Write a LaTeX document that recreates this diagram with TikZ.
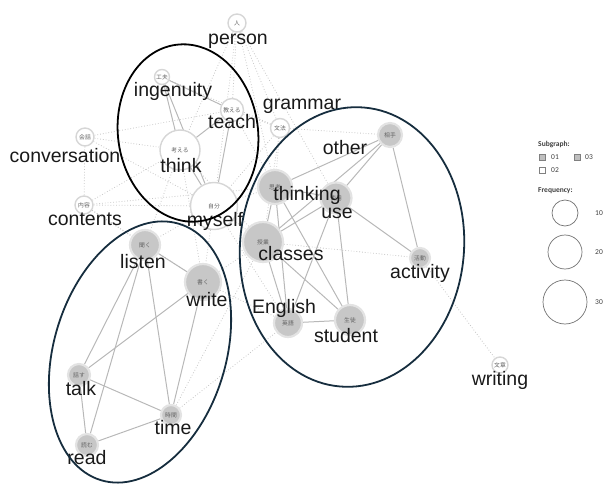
\documentclass[tikz,border=0pt]{standalone}
\usepackage{fontspec}
\setmainfont{Liberation Sans}
\newfontfamily\jpfont{Noto Sans CJK JP}
\newfontfamily\legfont{Carlito}
\usetikzlibrary{backgrounds}
\begin{document}
\begin{tikzpicture}[x=1pt,y=-1pt,
  ga/.style={circle,inner sep=0pt,fill=black!22,draw=black!11,line width=2.2pt,
     font=\jpfont\fontsize{5.8}{5.8}\selectfont,text=black!62},
  gw/.style={circle,inner sep=0pt,fill=white,draw=black!16,line width=1.4pt,
     font=\jpfont\fontsize{5.8}{5.8}\selectfont,text=black!62},
  lbl/.style={anchor=base,inner sep=0pt,font=\fontsize{19.5}{20}\selectfont,text=black!90},
  se/.style={draw=black!28,line width=1pt},
  de/.style={draw=black!22,line width=0.8pt,dotted},
  grp/.style={line width=1.8pt},
  leg/.style={font=\legfont\fontsize{7.5}{8}\selectfont,text=black!75,inner sep=0pt},
  legsq/.style={draw=black!50,minimum size=6pt,inner sep=0pt},
  legc/.style={circle,draw=black!55,line width=0.7pt,inner sep=0pt}]
\useasboundingbox (0,0) rectangle (605,484);
% nodes
\node[gw,minimum size=18pt] (person) at (237,23) {人};
\node[gw,minimum size=15pt] (ingenuity) at (162,77) {工夫};
\node[gw,minimum size=23pt] (teach) at (232,110) {教える};
\node[gw,minimum size=19pt] (grammar) at (280,128) {文法};
\node[gw,minimum size=18pt] (conversation) at (85,137) {会話};
\node[gw,minimum size=40pt] (think) at (180,150) {考える};
\node[gw,minimum size=18pt] (contents) at (84,205) {内容};
\node[gw,minimum size=47pt] (myself) at (214,206) {自分};
\node[ga,minimum size=34pt] (thinking) at (275,187) {思考};
\node[ga,minimum size=31pt] (use) at (336,198) {使用};
\node[ga,minimum size=24pt] (other) at (390,135) {相手};
\node[ga,minimum size=40pt] (classes) at (263,242) {授業};
\node[ga,minimum size=20pt] (activity) at (420,258) {活動};
\node[ga,minimum size=28pt] (English) at (288,323) {英語};
\node[ga,minimum size=30pt] (student) at (350,320) {生徒};
\node[gw,minimum size=16pt] (writing) at (500,365) {文章};
\node[ga,minimum size=30pt] (listen) at (145,245) {聞く};
\node[ga,minimum size=36pt] (write) at (203,282) {書く};
\node[ga,minimum size=22pt] (talk) at (79,375) {話す};
\node[ga,minimum size=20pt] (time) at (171,415) {時間};
\node[ga,minimum size=22pt] (read) at (87,445) {読む};
% edges
\begin{pgfonlayer}{background}
\foreach \a/\b in {person/think,person/teach,person/myself,person/grammar,person/thinking,person/use,
  conversation/contents,conversation/think,conversation/myself,conversation/teach,
  contents/think,contents/myself,contents/listen,contents/write,contents/thinking,
  grammar/teach,grammar/thinking,grammar/classes,grammar/other,grammar/myself,grammar/ingenuity,
  think/listen,think/write,think/classes,
  myself/listen,myself/write,myself/thinking,myself/classes,myself/English,
  write/classes,write/English,time/English,time/classes,
  classes/activity,activity/writing,teach/thinking}
  \draw[de] (\a) -- (\b);
\foreach \a/\b in {ingenuity/think,ingenuity/myself,ingenuity/teach,teach/think,teach/myself,think/myself,
  other/thinking,other/use,other/classes,other/activity,thinking/use,thinking/classes,thinking/English,
  thinking/student,use/classes,use/activity,use/student,use/English,classes/English,classes/student,
  English/student,
  listen/write,listen/talk,listen/read,listen/time,write/talk,write/time,talk/time,talk/read,read/time}
  \draw[se] (\a) -- (\b);
\end{pgfonlayer}
% labels
\node[lbl] (personL) at (238,45) {person};
\node[lbl] (ingenuityL) at (173,97) {ingenuity};
\node[lbl] (teachL) at (232,129) {teach};
\node[lbl] (grammarL) at (302,110) {grammar};
\node[lbl] (conversationL) at (65,162) {conversation};
\node[lbl] (thinkL) at (181,172) {think};
\node[lbl] (contentsL) at (85,225) {contents};
\node[lbl] (myselfL) at (215,226) {myself};
\node[lbl] (thinkingL) at (307,200) {thinking};
\node[lbl] (useL) at (337,218) {use};
\node[lbl] (otherL) at (345,154) {other};
\node[lbl] (classesL) at (291,260) {classes};
\node[lbl] (activityL) at (420,278) {activity};
\node[lbl] (EnglishL) at (284,313) {English};
\node[lbl] (studentL) at (346,342) {student};
\node[lbl] (writingL) at (500,385) {writing};
\node[lbl] (listenL) at (143,268) {listen};
\node[lbl] (writeL) at (207,306) {write};
\node[lbl] (talkL) at (81,395) {talk};
\node[lbl] (timeL) at (173,434) {time};
\node[lbl] (readL) at (87,464) {read};
% group ellipses
\draw[grp,black] [shift={(188,133)},rotate=8] (0,0) ellipse [x radius=70pt,y radius=89pt];
\draw[grp,draw={rgb,255:red,22;green,45;blue,62}] [shift={(352,247)},rotate=-5] (0,0) ellipse [x radius=112pt,y radius=140pt];
\draw[grp,draw={rgb,255:red,22;green,45;blue,62}] [shift={(140,352)},rotate=-17] (0,0) ellipse [x radius=86pt,y radius=134pt];
% legend
\node[leg,anchor=west,font=\legfont\bfseries\fontsize{7.5}{8}\selectfont] (lsub) at (538,145) {Subgraph:};
\node[legsq,fill=black!25] (sq1) at (542,157) {};
\node[leg,anchor=west] (t1) at (551,157) {01};
\node[legsq,fill=black!25] (sq3) at (577,157) {};
\node[leg,anchor=west] (t3) at (585,157) {03};
\node[legsq,fill=white] (sq2) at (542,170) {};
\node[leg,anchor=west] (t2) at (551,170) {02};
\node[leg,anchor=west,font=\legfont\bfseries\fontsize{7.5}{8}\selectfont] (lfreq) at (538,191) {Frequency:};
\node[legc,minimum size=26pt] (c10) at (565,213) {};
\node[leg] (n10) at (599,213) {10};
\node[legc,minimum size=34pt] (c20) at (565,252) {};
\node[leg] (n20) at (599,252) {20};
\node[legc,minimum size=44pt] (c30) at (565,302) {};
\node[leg] (n30) at (599,302) {30};
\end{tikzpicture}
\end{document}
